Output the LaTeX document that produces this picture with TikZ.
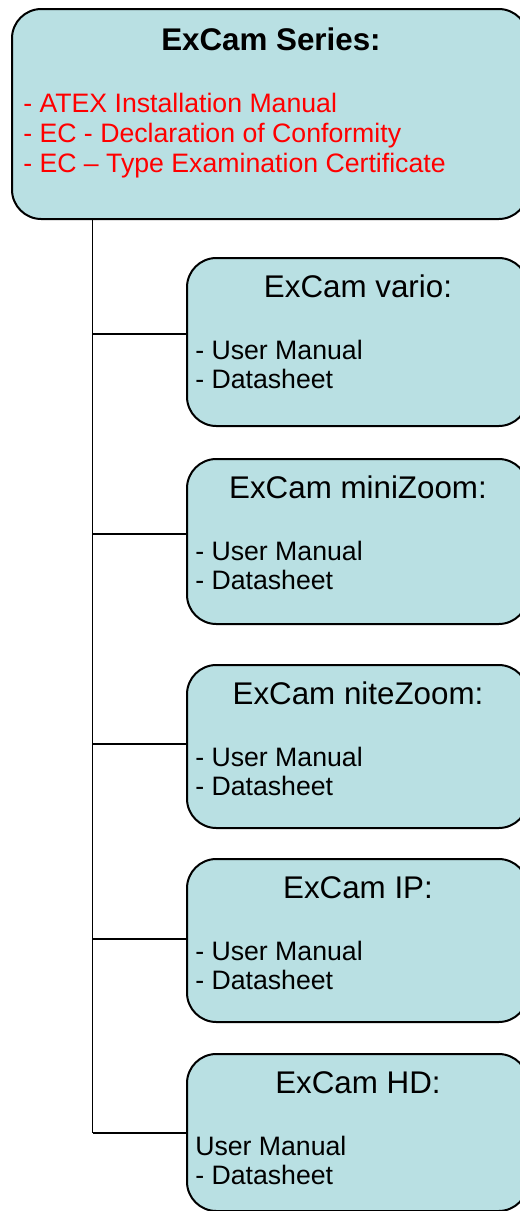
\documentclass[tikz,border=0pt]{standalone}
\usepackage{fontspec}
\setmainfont{Liberation Sans}
\definecolor{boxblue}{RGB}{185,224,227}
\definecolor{docred}{RGB}{255,0,0}

\begin{document}
\begin{tikzpicture}[x=0.75pt,y=-0.75pt,
		box/.style={draw=black,line width=1.5pt,fill=boxblue,rounded corners=22pt,
			anchor=north west,inner sep=0pt},
		bigtitle/.style={anchor=base,inner sep=0pt,font=\fontsize{23.5pt}{28pt}\selectfont\bfseries},
		subtitle/.style={anchor=base,inner sep=0pt,font=\fontsize{23.5pt}{28pt}\selectfont},
		items/.style={anchor=base west,inner sep=0pt,align=left,
			font=\fontsize{20pt}{21.75pt}\selectfont},
		link/.style={line width=1.1pt}]
		\useasboundingbox (0,0) rectangle (520,1211);

		% Define the series box
		\node[box,minimum width=387pt,minimum height=157.5pt] (series) at (11,8) {};
		\node[bigtitle] (series-title) at (271,50) {ExCam Series:};
		\node[items,text=docred,font=\fontsize{20pt}{22.5pt}\selectfont] (series-docs) at (23,172)
			{- ATEX Installation Manual\\- EC - Declaration of Conformity\\- EC – Type Examination Certificate};

		% Define the trunk
		\coordinate (trunk) at (92.5,218);

		% Draw the camera boxes and their branches
		\foreach \name/\title/\first/\boxtop/\boxht/\joiny in
			{vario/ExCam vario:/- User Manual/257/168/334,
			 mini/ExCam miniZoom:/- User Manual/458/165/534,
			 nite/ExCam niteZoom:/- User Manual/664/163/744,
			 ip/ExCam IP:/- User Manual/858/163/939,
			 hd/ExCam HD:/User Manual/1053/157/1133}
		{
			\node[box,minimum width=255.75pt,minimum height=\boxht*0.75pt] (\name) at (186,\boxtop) {};
			\node[subtitle] (\name-title) at (358,\boxtop+40) {\title};
			\node[items] (\name-docs) at (195,\boxtop+131) {\first\\- Datasheet};
			\coordinate (\name-join) at (92.5,\joiny);
			\draw[link] (\name-join) -- (\name-join -| \name.west);
		}

		% Draw the trunk line
		\draw[link] (trunk) -- (hd-join);
	\end{tikzpicture}
\end{document}
